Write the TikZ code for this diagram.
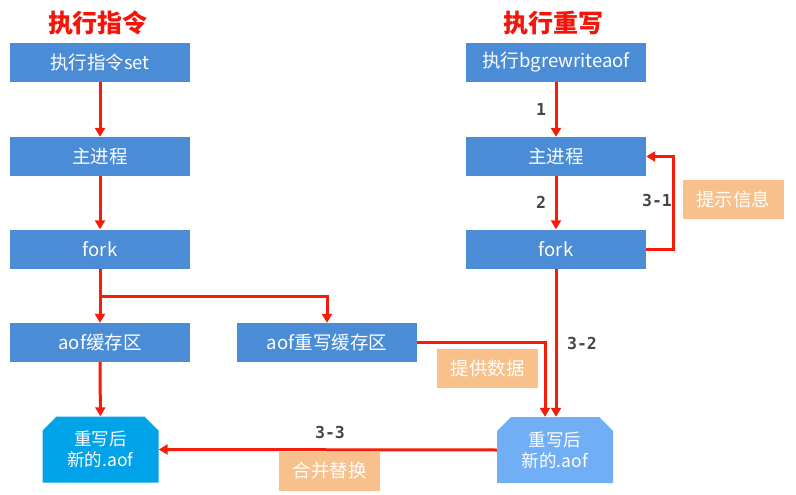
\documentclass[tikz,border=0pt]{standalone}
\usepackage{fontspec}
\setmainfont{Noto Sans CJK SC}
\newfontfamily\labelfont{DejaVu Sans Mono}
\usetikzlibrary{arrows.meta,shapes.misc}
\definecolor{boxblue}{RGB}{74,140,214}
\definecolor{docdark}{RGB}{0,162,232}
\definecolor{doclight}{RGB}{112,174,245}
\definecolor{tagorange}{RGB}{248,192,138}
\definecolor{arrowred}{RGB}{245,28,10}
\definecolor{titlered}{RGB}{245,20,10}
\definecolor{labelgray}{RGB}{70,70,70}
\tikzset{
  x=1pt, y=-1pt,
  procbox/.style={fill=boxblue, text=white, minimum width=180pt, minimum height=39pt, inner sep=0pt, font=\fontsize{18.5}{20}\selectfont},
  docbox/.style={chamfered rectangle, chamfered rectangle corners={north west,north east}, chamfered rectangle xsep=7pt, chamfered rectangle ysep=7pt, text=white, minimum width=116pt, minimum height=66pt, inner sep=0pt, align=center, font=\fontsize{17.5}{21}\selectfont},
  tagbox/.style={fill=tagorange, text=white, minimum width=101pt, minimum height=39pt, inner sep=0pt, font=\fontsize{18.5}{20}\selectfont},
  title/.style={text=titlered, font=\fontsize{25}{27}\selectfont\bfseries},
  steplabel/.style={text=labelgray, font=\labelfont\bfseries\fontsize{16.5}{18}\selectfont},
  arr/.style={draw=arrowred, line width=3pt, -{Triangle[length=9pt,width=10pt]}},
  plain/.style={draw=arrowred, line width=3pt}
}
\begin{document}
\begin{tikzpicture}
\useasboundingbox (0,0) rectangle (796,495);
\fill[white] (0,0) rectangle (796,495);
% titles
\node[title] (t1) at (98,23) {执行指令};
\node[title] (t2) at (553.5,23) {执行重写};
% left column
\node[procbox] (l1) at (100,62.5) {执行指令set};
\node[procbox] (l2) at (100,156.5) {主进程};
\node[procbox] (l3) at (100,249) {fork};
\node[procbox] (l4) at (100,342.5) {aof缓存区};
\node[procbox] (lw) at (327,342.5) {aof重写缓存区};
\node[docbox, fill=docdark] (ldoc) at (100.5,449.5) {重写后\\新的.aof};
% right column
\node[procbox] (r1) at (556,62.5) {执行bgrewriteaof};
\node[procbox] (r2) at (556,156.5) {主进程};
\node[procbox] (r3) at (556,249) {fork};
\node[docbox, fill=doclight] (rdoc) at (555,450) {重写后\\新的.aof};
% tags
\node[tagbox] (tg1) at (733,199.5) {提示信息};
\node[tagbox] (tg2) at (487.5,368.5) {提供数据};
\node[tagbox] (tg3) at (329.5,471) {合并替换};
% connectors left
\draw[arr] (l1) -- (l2);
\draw[arr] (l2) -- (l3);
\draw[arr] (l3) -- (l4);
\draw[arr] (l4) -- (ldoc);
\coordinate (br) at (100,296);
\draw[arr] (br) -| (lw.north);
% connectors right
\draw[arr] (r1) -- node[steplabel, left=5pt] {1} (r2);
\draw[arr] (r2) -- node[steplabel, left=5pt] {2} (r3);
\coordinate (loop) at (673,249);
\draw[arr] (r3.east) -- (loop) |- (r2.east);
\node[steplabel] (l31) at (657,200) {3-1};
\draw[arr] (r3.south) -- (r3.south |- rdoc.north);
\node[steplabel] (l32) at (582,343) {3-2};
\draw[arr] (lw.east) -| ([xshift=-10pt]rdoc.north);
\draw[arr] (rdoc.west) -- (ldoc.east);
\node[steplabel] (l33) at (330,432) {3-3};
\end{tikzpicture}
\end{document}
